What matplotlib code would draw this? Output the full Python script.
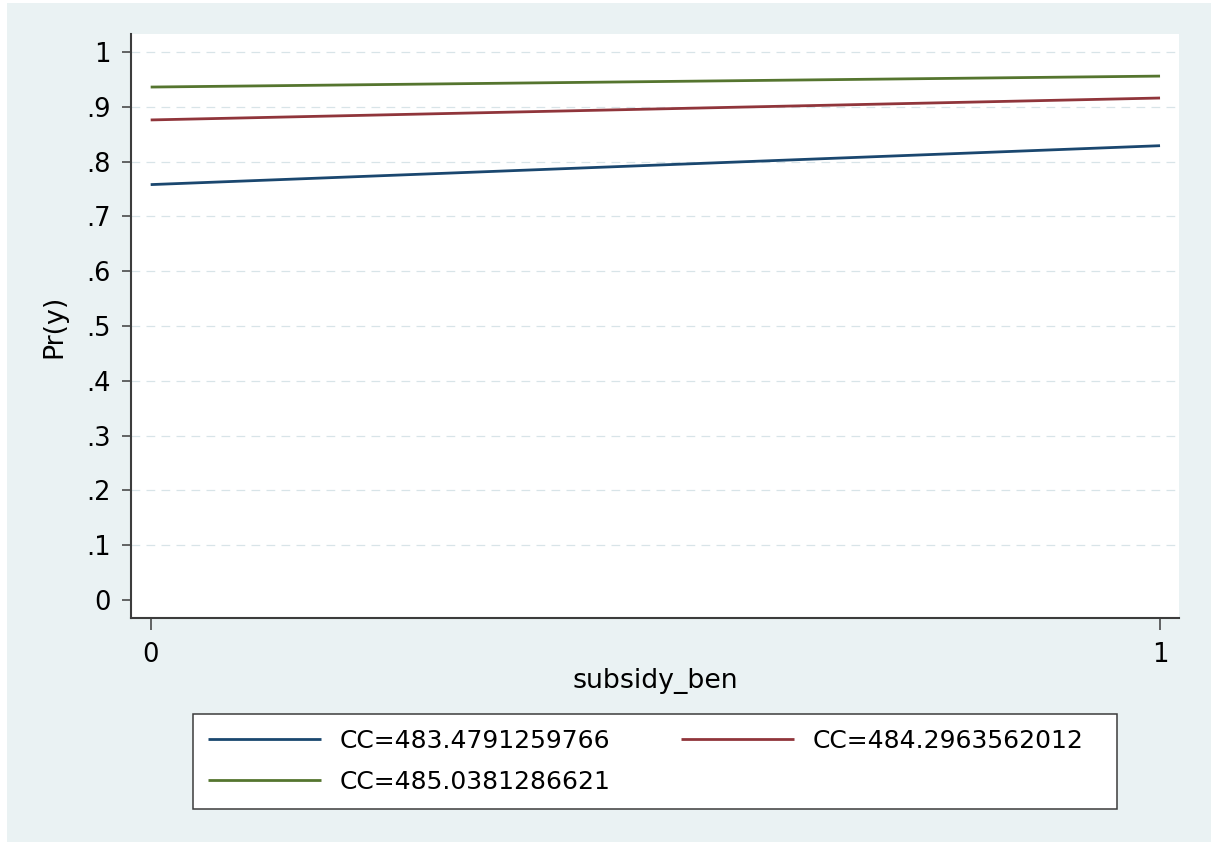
import matplotlib
matplotlib.use("Agg")
import matplotlib.pyplot as plt
from matplotlib.patches import Rectangle

# Data
x_vals = [0, 1]
series_labels = ["CC=483.4791259766", "CC=484.2963562012", "CC=485.0381286621"]
blue_vals = [0.758, 0.829]
red_vals = [0.876, 0.916]
green_vals = [0.936, 0.956]
y_ticks = [0, 0.1, 0.2, 0.3, 0.4, 0.5, 0.6, 0.7, 0.8, 0.9, 1.0]
y_ticklabels = ["0", ".1", ".2", ".3", ".4", ".5", ".6", ".7", ".8", ".9", "1"]
x_ticks = [0, 1]
x_ticklabels = ["0", "1"]

W, H = 1218, 842
plt.rcParams['font.family'] = ['DejaVu Sans']
fig = plt.figure(figsize=(W / 100, H / 100), dpi=100, facecolor='white')

bg = Rectangle((7 / W, 0), (1211 - 7) / W, (842 - 3) / H, transform=fig.transFigure,
               facecolor='#EAF2F3', edgecolor='none', zorder=-10)
fig.patches.append(bg)

# legend box
legbox = Rectangle((193 / W, 1 - 809 / H), (1117 - 193) / W, (809 - 714) / H,
                   transform=fig.transFigure, facecolor='white', edgecolor='#3C3C3C',
                   lw=1.1, zorder=-5)
fig.patches.append(legbox)

ax = fig.add_axes([131 / W, 1 - 618 / H, (1179 - 131) / W, (618 - 34) / H])
ax.set_facecolor('white')

c_blue, c_red, c_green = '#1A476F', '#90353B', '#55752F'
lb, = ax.plot(x_vals, blue_vals, color=c_blue, lw=2.0, solid_capstyle='butt')
lr, = ax.plot(x_vals, red_vals, color=c_red, lw=2.0, solid_capstyle='butt')
lg, = ax.plot(x_vals, green_vals, color=c_green, lw=2.0, solid_capstyle='butt')

ax.set_xlim(-0.0195, 1.0188)
ax.set_ylim(-0.0328, 1.0328)

for yv in y_ticks[1:]:
    ax.axhline(yv, color='#D8E4E8', lw=0.9, linestyle=(0, (7, 5)), zorder=0)

ax.set_yticks(y_ticks)
ax.set_yticklabels(y_ticklabels)
ax.set_xticks(x_ticks)
ax.set_xticklabels(x_ticklabels)

for s in ['top', 'right']:
    ax.spines[s].set_visible(False)
for s in ['left', 'bottom']:
    ax.spines[s].set_color('#3C3C3C')
    ax.spines[s].set_linewidth(1.5)

ax.tick_params(axis='y', length=6.5, width=1.1, color='#3C3C3C', pad=8, labelsize=18.5, labelcolor='black')
ax.tick_params(axis='x', length=8.6, width=1.1, color='#3C3C3C', pad=8.5, labelsize=18.5, labelcolor='black')

ax.set_ylabel("Pr(y)", fontsize=19.3)
ax.yaxis.set_label_coords(-0.061, 0.5)
ax.set_xlabel("subsidy_ben", fontsize=19.3)
ax.xaxis.set_label_coords(0.5, -0.0856)

leg = fig.legend([lb, lg, lr], [series_labels[0], series_labels[2], series_labels[1]],
                 loc='upper left', bbox_to_anchor=(193 / W, 1 - 714 / H),
                 bbox_transform=fig.transFigure, ncol=2, fontsize=18,
                 handlelength=4.5, handletextpad=0.76, columnspacing=2.84,
                 borderpad=0.6, labelspacing=0.68, borderaxespad=0,
                 frameon=False)

fig.savefig("out.png", dpi=100, facecolor='white')
